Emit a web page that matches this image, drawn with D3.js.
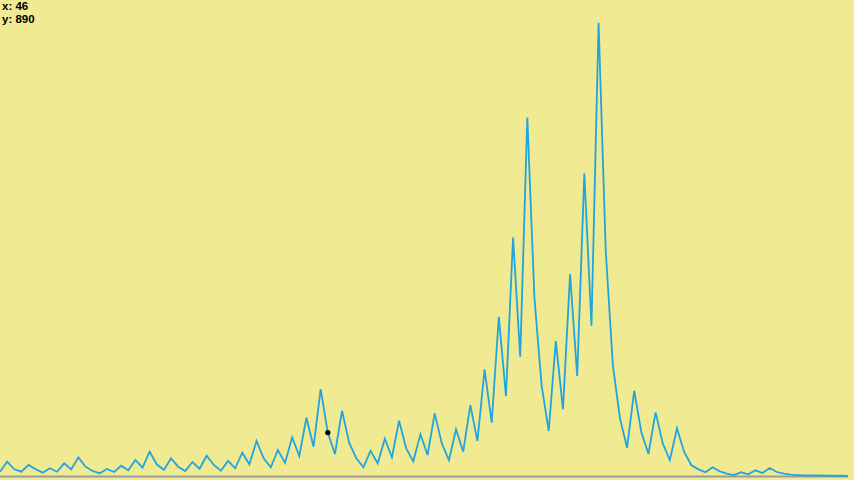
<!DOCTYPE html>
<html>
<head>
<meta charset="utf-8">
<script src="https://cdn.jsdelivr.net/npm/d3@7"></script>
<style>
html,body{margin:0;padding:0;overflow:hidden;background:#eeeba8;}
svg{display:block;}
</style>
</head>
<body>
<script>
const values = [88,293,137,88,226,137,68,158,88,260,
137,383,191,103,55,144,82,211,117,328,
170,498,240,123,363,191,103,287,150,416,
226,109,308,158,478,240,718,363,178,533,
267,793,410,1195,601,1784,890,451,1339,683,
363,178,519,260,765,383,1134,568,301,855,
431,1285,670,328,957,498,1456,718,2187,1093,
3266,1640,4893,2446,7353,3649,1866,923,2768,1367,
4141,2050,6205,3081,9300,4633,2276,1183,580,1749,
896,451,1306,670,328,978,498,226,137,76,
178,96,47,20,76,35,117,62,164,82,
47,27,20,14,10,10,8,6,5,4];
const selectedIndex = [46];
const labels = ["x: ", "y: "];

const W = 854, H = 480;
const svg = d3.select("body").append("svg").attr("width", W).attr("height", H);

const defs = svg.append("defs");
const pat = defs.append("pattern").attr("id","chk").attr("width",2).attr("height",2).attr("patternUnits","userSpaceOnUse");
pat.append("rect").attr("width",2).attr("height",2).attr("fill","#dcdcea").attr("shape-rendering","crispEdges");
pat.append("rect").attr("x",0).attr("y",0).attr("width",1).attr("height",1).attr("fill","#f4ef96").attr("shape-rendering","crispEdges");
pat.append("rect").attr("x",1).attr("y",1).attr("width",1).attr("height",1).attr("fill","#f4ef96").attr("shape-rendering","crispEdges");
svg.append("rect").attr("width",W).attr("height",H).attr("fill","url(#chk)");

const x = d3.scaleLinear().domain([0, values.length - 1]).range([0, 848]);
const y = d3.scaleLinear().domain([0, 9300]).range([476, 22.7]);

svg.append("line").attr("x1",0).attr("x2",848).attr("y1",476.5).attr("y2",476.5)
  .attr("stroke","#9a9a9a").attr("stroke-width",2);

const line = d3.line().x((d,i)=>x(i)).y(d=>y(d));
svg.append("path").datum(values).attr("d",line)
  .attr("fill","none").attr("stroke","#22a4e0").attr("stroke-width",1.8).attr("stroke-linejoin","miter");

svg.selectAll("circle.sel").data(selectedIndex).enter().append("circle")
  .attr("cx", d=>x(d)).attr("cy", d=>y(values[d])).attr("r",2.6).attr("fill","#000");

const i = selectedIndex[0];
svg.append("text").attr("x",2).attr("y",10).attr("font-family","Liberation Sans, Arial, sans-serif")
  .attr("font-size",11.5).attr("font-weight","bold").attr("fill","#000").text(labels[0] + i);
svg.append("text").attr("x",2).attr("y",23).attr("font-family","Liberation Sans, Arial, sans-serif")
  .attr("font-size",11.5).attr("font-weight","bold").attr("fill","#000").text(labels[1] + values[i]);
</script>
</body>
</html>
